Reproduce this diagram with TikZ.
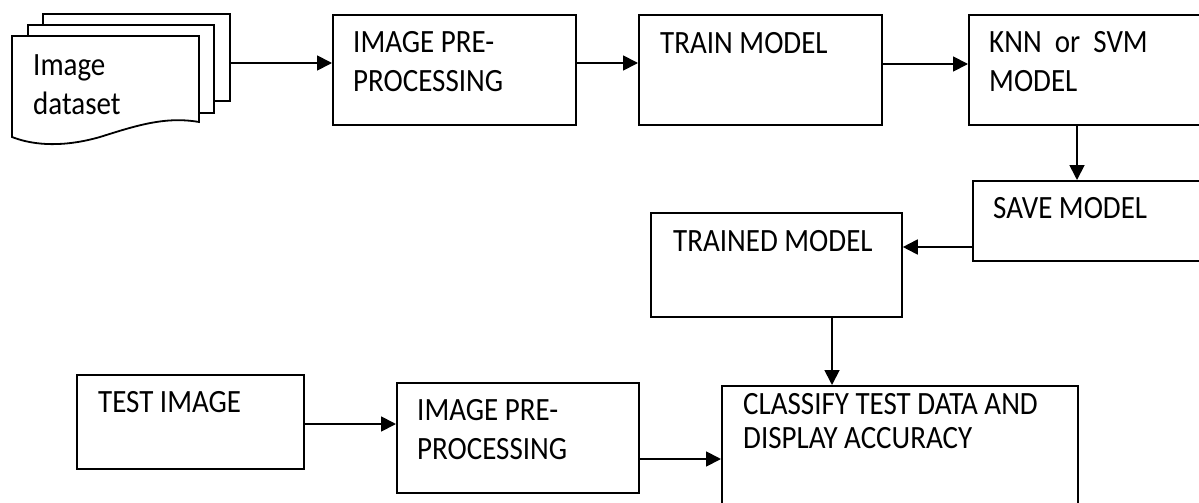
\documentclass[tikz,border=0pt]{standalone}
\usepackage{fontspec}
\setmainfont{Carlito}
\usetikzlibrary{arrows.meta}
\begin{document}
\begin{tikzpicture}[x=1pt,y=-1pt,
  box/.style={draw, line width=1.8pt, rectangle, anchor=north west, inner sep=0pt},
  lbl/.style={anchor=base west, align=left, inner sep=0pt, yscale=1.12,
    font=\fontsize{29}{34}\selectfont},
  arr/.style={line width=1.8pt, -{Triangle[length=15pt,width=15pt]}}]
\useasboundingbox (0,0) rectangle (1199,503);
\clip (0,0) rectangle (1199,503);
\fill[white] (0,0) rectangle (1199,503);
% document stack
\node[box, fill=white, minimum width=187pt, minimum height=87pt] (docback) at (42,13) {};
\node[box, fill=white, minimum width=186pt, minimum height=88pt] (docmid) at (27,24) {};
\draw[line width=1.8pt, fill=white] (12,36) -- (199,36) -- (199,122)
  .. controls (165,116) and (135,126) .. (100,137)
  .. controls (65,147) and (35,146) .. (12,137) -- cycle;
\node[lbl] (tdoc) at (33,114) {Image\\dataset};
% boxes
\node[box, minimum width=243pt, minimum height=110pt] (pre1) at (332,14) {};
\node[box, minimum width=243pt, minimum height=110pt] (train) at (638,14) {};
\node[box, minimum width=245pt, minimum height=110pt] (knn) at (968,14) {};
\node[box, minimum width=245pt, minimum height=80pt] (save) at (972,180) {};
\node[box, minimum width=251pt, minimum height=104pt] (trained) at (650,212) {};
\node[box, minimum width=227pt, minimum height=94pt] (test) at (76,374) {};
\node[box, minimum width=242pt, minimum height=110pt] (pre2) at (396,382) {};
\node[box, minimum width=356pt, minimum height=140pt] (classify) at (721,385) {};
% labels
\node[lbl] (tpre1) at (353,91) {IMAGE PRE-\\PROCESSING};
\node[lbl] (ttrain) at (660,53) {TRAIN MODEL};
\node[lbl] (tknn) at (989,91) {KNN\ \ or\ \ SVM\\MODEL};
\node[lbl] (tsave) at (993,218) {SAVE MODEL};
\node[lbl] (ttrained) at (673,251) {TRAINED MODEL};
\node[lbl] (ttest) at (98,412) {TEST IMAGE};
\node[lbl] (tpre2) at (417,459) {IMAGE PRE-\\PROCESSING};
\node[lbl, font=\fontsize{29}{29.5}\selectfont] (tclass) at (743,448) {CLASSIFY TEST DATA AND\\DISPLAY ACCURACY};
% connectors
\draw[arr] (docback.east |- 0,63) -- (pre1.west |- 0,63);
\draw[arr] (pre1.east |- 0,63) -- (train.west |- 0,63);
\draw[arr] (train.east |- 0,64) -- (knn.west |- 0,64);
\draw[arr] (knn.south -| 1077,0) -- (save.north -| 1077,0);
\draw[arr] (save.west |- 0,247) -- (trained.east |- 0,247);
\draw[arr] (trained.south -| 832,0) -- (classify.north -| 832,0);
\draw[arr] (test.east |- 0,424) -- (pre2.west |- 0,424);
\draw[arr] (pre2.east |- 0,459) -- (classify.west |- 0,459);
\end{tikzpicture}
\end{document}
